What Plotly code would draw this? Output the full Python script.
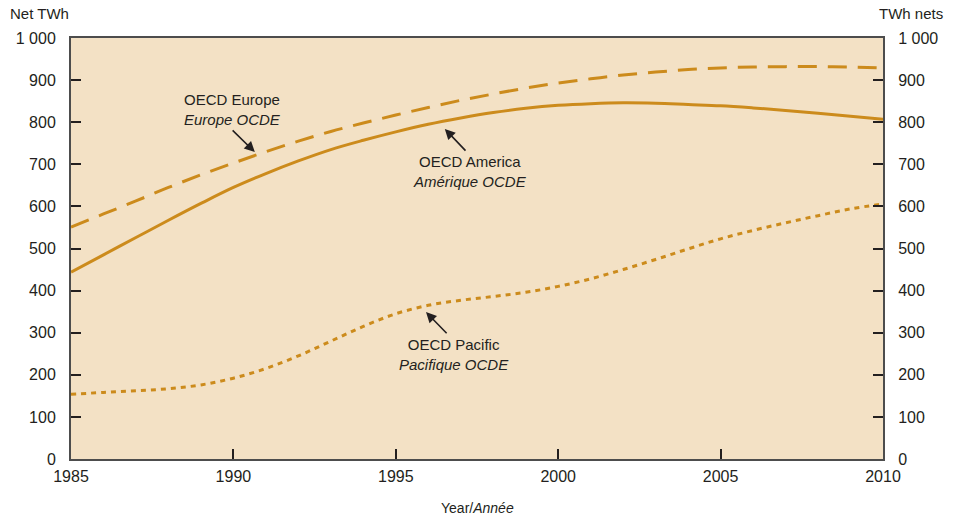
import plotly.graph_objects as go

years = list(range(1985, 2011))
europe = [551, 582, 613, 645, 675, 703, 730, 755, 778, 798, 817, 835, 852, 867, 881,
          893, 903, 912, 919, 925, 929, 931, 932, 932, 931, 929]
america = [444, 485, 526, 567, 607, 645, 678, 708, 735, 757, 777, 795, 810, 823, 833,
           840, 844, 846, 845, 842, 839, 834, 828, 821, 814, 807]
pacific = [154, 158, 162, 167, 176, 192, 215, 245, 280, 315, 345, 365, 377, 386, 396,
           410, 428, 450, 474, 499, 523, 543, 561, 578, 594, 606]

y_ticks = [0, 100, 200, 300, 400, 500, 600, 700, 800, 900, 1000]
y_ticktext = ["0", "100", "200", "300", "400", "500", "600", "700", "800", "900", "1 000"]
x_ticks = [1985, 1990, 1995, 2000, 2005, 2010]

LINE = "#cc8b1c"
AX = "#4d4d4d"
TXT = "#231f20"
FONT = "Liberation Sans, Arial, sans-serif"

fig = go.Figure()
fig.add_trace(go.Scatter(x=years, y=europe, mode="lines", line=dict(color=LINE, width=3, dash="19px,11px", shape="spline"), showlegend=False))
fig.add_trace(go.Scatter(x=years, y=america, mode="lines", line=dict(color=LINE, width=3, shape="spline"), showlegend=False))
fig.add_trace(go.Scatter(x=years, y=pacific, mode="lines", line=dict(color=LINE, width=3, dash="5px,5px", shape="spline"), showlegend=False))
fig.add_trace(go.Scatter(x=[years[0]], y=[0], yaxis="y2", mode="markers", marker=dict(opacity=0), showlegend=False, hoverinfo="skip"))

axis_common = dict(ticks="inside", ticklen=10, tickwidth=1.5, tickcolor=TXT,
                   showline=True, linecolor=AX, linewidth=2, showgrid=False, zeroline=False,
                   tickfont=dict(family=FONT, size=16, color=TXT))

fig.update_layout(
    width=955, height=520,
    margin=dict(l=71, r=72, t=38, b=61),
    paper_bgcolor="white", plot_bgcolor="#f3e1c5",
    font=dict(family=FONT, color=TXT),
    xaxis=dict(range=[1985, 2010], tickvals=x_ticks, mirror=True, ticklabelstandoff=2, **axis_common),
    yaxis=dict(range=[0, 1000], tickvals=y_ticks, ticktext=y_ticktext, ticklabelstandoff=10, **axis_common),
    yaxis2=dict(range=[0, 1000], tickvals=y_ticks, ticktext=y_ticktext, overlaying="y", side="right",
                ticklabelstandoff=10, **axis_common),
)

def ann_text(x, y, text):
    fig.add_annotation(x=x, y=y, xref="x", yref="y", text=text, showarrow=False,
                       xanchor="center", yanchor="middle",
                       font=dict(family=FONT, size=15, color=TXT))

def ann_arrow(hx, hy, tx, ty):
    fig.add_annotation(x=hx, y=hy, ax=tx, ay=ty, xref="x", yref="y", axref="x", ayref="y",
                       text="", showarrow=True, arrowhead=2, arrowsize=1.3, arrowwidth=1.6,
                       arrowcolor=TXT)

ann_text(1989.96, 829, "OECD Europe<br><i>Europe OCDE</i>")
ann_arrow(1990.66, 729, 1989.93, 784)
ann_text(1997.28, 682, "OECD America<br><i>Amérique OCDE</i>")
ann_arrow(1996.51, 784, 1997.19, 729)
ann_text(1996.79, 249, "OECD Pacific<br><i>Pacifique OCDE</i>")
ann_arrow(1995.93, 349, 1996.61, 295)

fig.add_annotation(x=(8 - 71) / 812, y=(459 - 13) / 421, xref="paper", yref="paper", text="Net TWh",
                   showarrow=False, xanchor="left", yanchor="middle", font=dict(family=FONT, size=15, color=TXT))
fig.add_annotation(x=(945 - 71) / 812, y=(459 - 13) / 421, xref="paper", yref="paper", text="TWh nets",
                   showarrow=False, xanchor="right", yanchor="middle", font=dict(family=FONT, size=15, color=TXT))
fig.add_annotation(x=(477 - 71) / 812, y=(459 - 508) / 421, xref="paper", yref="paper", text="Year/<i>Année</i>",
                   showarrow=False, xanchor="center", yanchor="middle", font=dict(family=FONT, size=14, color=TXT))

fig.write_html("out.html", config={"displayModeBar": False},
               post_script="document.body.style.margin='0px';")
